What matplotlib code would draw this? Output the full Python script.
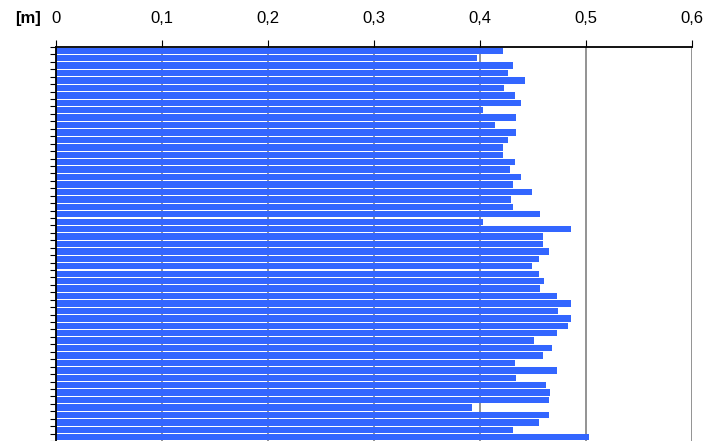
import matplotlib
matplotlib.use("Agg")
import matplotlib.pyplot as plt
import numpy as np

# Data (top to bottom)
values = [0.422, 0.397, 0.431, 0.426, 0.442, 0.423, 0.433, 0.439, 0.403, 0.434,
          0.414, 0.434, 0.426, 0.422, 0.422, 0.433, 0.428, 0.439, 0.431, 0.449,
          0.429, 0.431, 0.457, 0.403, 0.486, 0.459, 0.459, 0.465, 0.456, 0.449,
          0.456, 0.460, 0.457, 0.473, 0.486, 0.474, 0.486, 0.483, 0.473, 0.451,
          0.468, 0.459, 0.433, 0.473, 0.434, 0.462, 0.466, 0.465, 0.392, 0.465,
          0.456, 0.431, 0.503]
categories = list(range(1, len(values) + 1))
xticks = [0, 0.1, 0.2, 0.3, 0.4, 0.5, 0.6]
xtick_labels = ["0", "0,1", "0,2", "0,3", "0,4", "0,5", "0,6"]
unit_label = "[m]"

plt.rcParams['font.family'] = ['Liberation Sans', 'DejaVu Sans']

W, H = 709, 441
fig = plt.figure(figsize=(W / 100, H / 100), dpi=100)
left, right, top = 56, 692, 47
ax = fig.add_axes([left / W, 0, (right - left) / W, (H - top) / H])

pos = np.arange(len(categories))
ax.barh(pos, values, height=0.86, color='#3366ff', zorder=2)

ax.set_xlim(0, 0.6)
ax.set_ylim(len(categories) - 0.5, -0.5)

ax.xaxis.tick_top()
ax.set_xticks(xticks)
ax.set_xticklabels(xtick_labels, fontsize=12)
ax.tick_params(axis='x', which='major', direction='out', length=4.7, width=0.8,
               color='black', pad=10.3, labelsize=12)
ax.set_yticks(np.arange(len(categories) + 1) - 0.5)
ax.set_yticklabels([])
ax.tick_params(axis='y', direction='out', length=4.3, width=0.8, color='black')

ax.grid(axis='x', color='#808080', linewidth=1.2, zorder=0)
ax.set_axisbelow(True)

for s in ['right', 'bottom']:
    ax.spines[s].set_visible(False)
ax.spines['top'].set_linewidth(1.3)
ax.spines['left'].set_linewidth(1.3)
ax.spines['top'].set_zorder(3)
ax.spines['left'].set_zorder(3)

fig.text(41 / W, 1 - 23.5 / H, unit_label, fontsize=12, fontweight='bold',
         ha='right', va='baseline')

fig.savefig('out.png', dpi=100)
